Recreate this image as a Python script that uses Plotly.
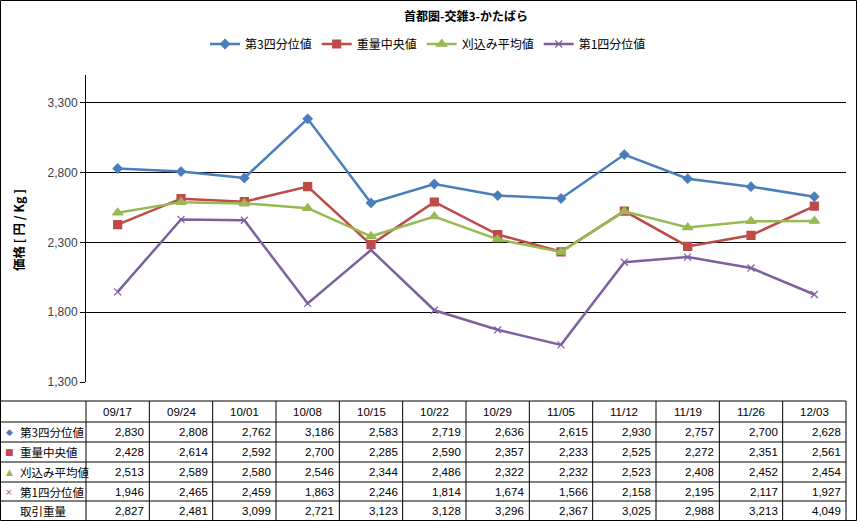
import plotly.graph_objects as go

dates = ["09/17", "09/24", "10/01", "10/08", "10/15", "10/22", "10/29", "11/05", "11/12", "11/19", "11/26", "12/03"]
q3 = [2830, 2808, 2762, 3186, 2583, 2719, 2636, 2615, 2930, 2757, 2700, 2628]
median = [2428, 2614, 2592, 2700, 2285, 2590, 2357, 2233, 2525, 2272, 2351, 2561]
avg = [2513, 2589, 2580, 2546, 2344, 2486, 2322, 2232, 2523, 2408, 2452, 2454]
q1 = [1946, 2465, 2459, 1863, 2246, 1814, 1674, 1566, 2158, 2195, 2117, 1927]
volume = [2827, 2481, 3099, 2721, 3123, 3128, 3296, 2367, 3025, 2988, 3213, 4049]

series_names = ["第3四分位値", "重量中央値", "刈込み平均値", "第1四分位値"]
volume_name = "取引重量"
title_text = "首都圏-交雑3-かたばら"
y_title = "価格 [ 円 / Kg ]"
y_ticks = [1300, 1800, 2300, 2800, 3300]

colors = ["#4A7EBB", "#BE4B48", "#98B954", "#7D60A0"]
symbols = ["diamond", "square", "triangle-up", "x-thin"]
sizes = [7, 8, 9, 7]
marker_chars = ["◆", "■", "▲", "×"]

W, H = 857, 521
L, R, T, B = 86, 846, 75, 382
PW, PH = R - L, B - T

def px(xp):
    return (xp - L) / PW

def py(yp):
    return (B - yp) / PH

fig = go.Figure()
for name, vals, c, s, sz in zip(series_names, [q3, median, avg, q1], colors, symbols, sizes):
    fig.add_trace(go.Scatter(
        x=list(range(len(dates))), y=vals, name=name, mode="lines+markers",
        line=dict(color=c, width=2.5),
        marker=dict(symbol=s, size=sz, color=c, line=dict(color=c, width=1.2)),
    ))

shapes = []
annotations = []
# whole chart border
shapes.append(dict(type="rect", xref="paper", yref="paper",
                   x0=px(0.5), x1=px(W - 0.5), y0=py(H - 0.5), y1=py(0.5),
                   line=dict(color="black", width=1)))

# table
row_y = [401, 422, 442, 462, 482, 501, 520.5]
for ry in row_y[:-1]:
    shapes.append(dict(type="line", xref="paper", yref="paper",
                       x0=px(0), x1=1, y0=py(ry), y1=py(ry),
                       line=dict(color="black", width=1)))
n = len(dates)
for k in range(n + 1):
    shapes.append(dict(type="line", xref="paper", yref="paper",
                       x0=k / n, x1=k / n, y0=py(row_y[0]), y1=py(row_y[-1]),
                       line=dict(color="black", width=1)))

cell_font = dict(family="Liberation Sans, Noto Sans CJK JP", size=11.5, color="black")
for i, d in enumerate(dates):
    yc = py((row_y[0] + row_y[1]) / 2)
    annotations.append(dict(xref="paper", yref="paper", x=(i + 0.5) / n, y=yc,
                            text=d, showarrow=False, xanchor="center", yanchor="middle",
                            font=cell_font))

rows = [q3, median, avg, q1, volume]
labels = series_names + [volume_name]
for r, (lab, vals) in enumerate(zip(labels, rows)):
    yc = py((row_y[r + 1] + row_y[r + 2]) / 2)
    for i, v in enumerate(vals):
        annotations.append(dict(xref="paper", yref="paper", x=(i + 1) / n, y=yc,
                                text=f"{v:,}", showarrow=False, xanchor="right", yanchor="middle",
                                xshift=-3, font=cell_font))
    annotations.append(dict(xref="paper", yref="paper", x=px(18), y=yc,
                            text=lab, showarrow=False, xanchor="left", yanchor="middle",
                            font=dict(family="Noto Sans CJK JP", size=11.5, color="black")))
    if r < 4:
        annotations.append(dict(xref="paper", yref="paper", x=px(9), y=yc,
                                text=marker_chars[r], showarrow=False, xanchor="center", yanchor="middle",
                                font=dict(family="DejaVu Sans", size=9, color=colors[r])))

# y axis title
annotations.append(dict(xref="paper", yref="paper", x=px(18), y=py(230),
                        text=y_title, showarrow=False, textangle=-90,
                        xanchor="center", yanchor="middle",
                        font=dict(family="Noto Sans CJK JP", size=12.5, color="black", weight="bold")))

fig.update_layout(
    width=W, height=H,
    margin=dict(l=L, r=W - R, t=T, b=H - B, pad=0),
    paper_bgcolor="white", plot_bgcolor="white",
    font=dict(family="Liberation Sans, Noto Sans CJK JP", size=12, color="black"),
    title=dict(text=title_text, x=0.5, xref="paper", xanchor="center", y=1 - 17 / H, yanchor="middle",
               font=dict(family="Noto Sans CJK JP", size=12, color="black", weight="bold")),
    legend=dict(orientation="h", x=0.45, xanchor="center", y=py(44), yanchor="middle",
                font=dict(family="Noto Sans CJK JP", size=12, color="black"),
                bgcolor="rgba(0,0,0,0)", itemwidth=30, tracegroupgap=0),
    xaxis=dict(type="linear", range=[-0.5, n - 0.5], showgrid=False, zeroline=False,
               showticklabels=False, showline=False, ticks=""),
    yaxis=dict(range=[1300, 3500], tickvals=y_ticks, tickformat=",d",
               showgrid=True, gridcolor="black", gridwidth=1, zeroline=False,
               showline=True, linecolor="black", linewidth=1,
               ticks="outside", ticklen=5, tickcolor="black",
               tickfont=dict(family="Liberation Sans", size=12, color="#404040")),
    shapes=shapes, annotations=annotations,
    showlegend=True,
)

fig.write_html("out.html", config={"displayModeBar": False},
               post_script="document.body.style.margin='0';document.body.style.padding='0';document.body.style.overflow='hidden';")
